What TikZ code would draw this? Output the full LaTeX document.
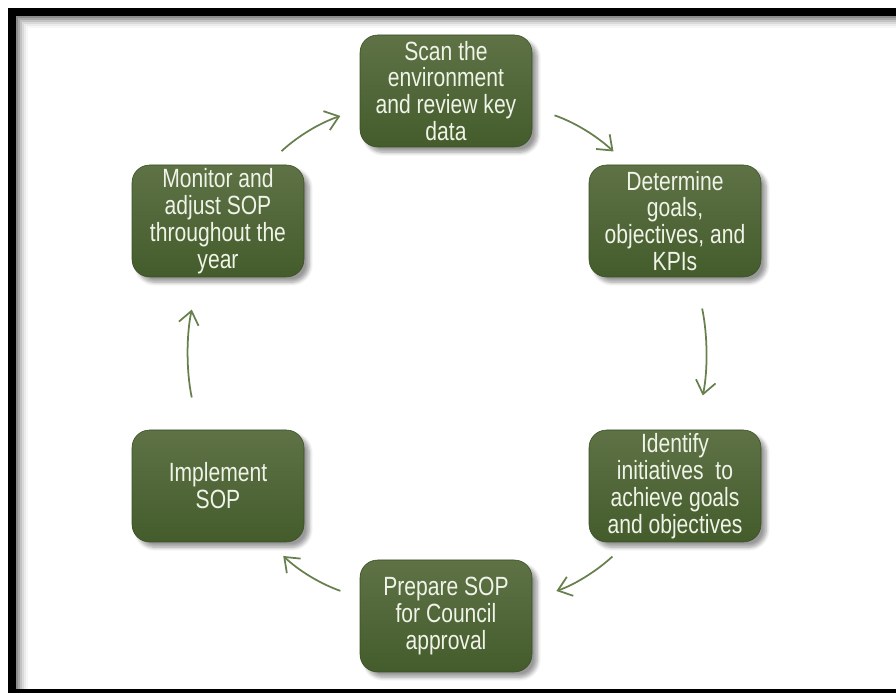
\documentclass[tikz,border=0pt]{standalone}
\usepackage{fontspec}
\setmainfont{Liberation Sans}[FakeStretch=0.8]
\usepackage{tikz}
\usetikzlibrary{arrows.meta,shadows.blur}
\definecolor{boxtop}{RGB}{94,114,70}
\definecolor{boxbot}{RGB}{68,92,44}
\definecolor{cycarrow}{RGB}{104,128,78}
\definecolor{boxtext}{RGB}{240,244,232}

\begin{document}
\begin{tikzpicture}[>={Straight Barb[length=2.6mm,width=4mm]},
  cyc_box/.style={rounded corners=10pt,top color=boxtop,bottom color=boxbot,draw=boxbot!85!black,line width=0.3pt,minimum width=3.44cm,minimum height=2.24cm,align=center,text=boxtext,font=\fontsize{15}{15.3}\selectfont,inner sep=0pt,blur shadow={shadow xshift=3pt,shadow yshift=-3pt,shadow blur steps=6,shadow opacity=40}},
  cyc_arrow/.style={draw=cycarrow,line width=1pt,->,bend left=12}]
\useasboundingbox (0,0) rectangle (17.92,13.86);
\clip (0,0) rectangle (17.92,13.86);
% frame with inner shadow
\foreach \i/\g in {0/45,1/34,2/24,3/15,4/8,5/3}{
  \draw[black!\g,line width=0.045cm] (0.34+0.04*\i,0.08) -- (0.34+0.04*\i,13.52-0.04*\i) -- (17.92,13.52-0.04*\i);
}
\draw[line width=0.16cm] (0.24,0) rectangle (18.2,13.62);
% cycle
\node[cyc_box] (c_scan) at (8.92,12.04) {Scan the\\environment\\and review key\\data};
\node[cyc_box] (c_goal) at (13.50,9.44) {Determine\\goals,\\objectives, and\\KPIs};
\node[cyc_box] (c_init) at (13.50,4.14) {Identify\\initiatives~ to\\achieve goals\\and objectives};
\node[cyc_box] (c_prep) at (8.92,1.54) {Prepare SOP\\for Council\\approval};
\node[cyc_box] (c_impl) at (4.36,4.14) {Implement\\SOP};
\node[cyc_box] (c_mon) at (4.36,9.44) {Monitor and\\adjust SOP\\throughout the\\year};
\draw[cyc_arrow,shorten <=0.47cm,shorten >=0.39cm] (c_scan.-11) to (c_goal.130);
\draw[cyc_arrow,shorten <=0.64cm,shorten >=0.70cm] (c_goal.-70) to (c_init.70);
\draw[cyc_arrow,shorten <=0.42cm,shorten >=0.51cm] (c_init.-130) to (c_prep.11);
\draw[cyc_arrow,shorten <=0.41cm,shorten >=0.40cm] (c_prep.168) to (c_impl.-48);
\draw[cyc_arrow,shorten <=0.66cm,shorten >=0.66cm] (c_impl.109) to (c_mon.-109);
\draw[cyc_arrow,shorten <=0.40cm,shorten >=0.41cm] (c_mon.49) to (c_scan.-168);
\end{tikzpicture}
\end{document}
